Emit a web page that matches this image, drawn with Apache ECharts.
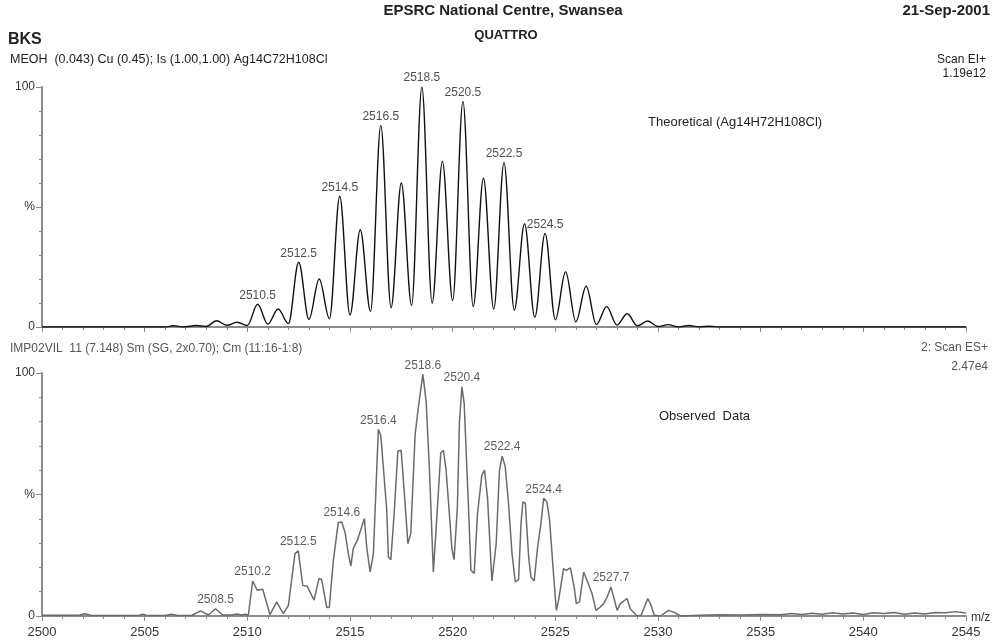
<!DOCTYPE html>
<html>
<head>
<meta charset="utf-8">
<script src="https://cdn.jsdelivr.net/npm/echarts@6/dist/echarts.min.js"></script>
<style>
  html, body { margin: 0; padding: 0; background: #fff; }
  #chart { width: 996px; height: 640px; }
</style>
</head>
<body>
<div id="chart"></div>
<script>
// theoretical isotope pattern (top), m/z and relative %
const topMz = [2500, 2505.5, 2506.0, 2506.4, 2506.9, 2507.5, 2508.0, 2508.5, 2509.0, 2509.5, 2510.0,
  2510.5, 2511.0, 2511.5, 2512.0, 2512.5, 2513.0, 2513.5, 2514.0, 2514.5, 2515.0,
  2515.5, 2516.0, 2516.5, 2517.0, 2517.5, 2518.0, 2518.5, 2519.0, 2519.5, 2520.0,
  2520.5, 2521.0, 2521.5, 2522.0, 2522.5, 2523.0, 2523.5, 2524.0, 2524.5, 2525.0,
  2525.5, 2526.0, 2526.5, 2527.0, 2527.5, 2528.0, 2528.5, 2529.0, 2529.5, 2530.0,
  2530.5, 2531.0, 2531.5, 2532.0, 2532.5, 2533.0, 2545]
const topPct = [0, 0, 0, 0.5, 0, 0.6, 0.2, 2.6, 0.7, 2.0, 0.6,
  9.5, 1.2, 7.5, 1.4, 27, 3.2, 20, 3.5, 54.5, 5,
  40.5, 6.5, 84, 8, 60, 9, 100, 10, 69, 11,
  94, 8.5, 62, 7.5, 68.5, 7, 43, 4, 39, 3,
  23, 2.2, 17, 1, 8.5, 0.8, 5.5, 0.5, 2.5, 0.2,
  1, 0, 0.6, 0.1, 0.3, 0, 0]

// observed data (bottom)
const bottomMz = [2500.0, 2501.0, 2501.8, 2502.1, 2502.4, 2503.2, 2504.0, 2504.7, 2504.9, 2505.1,
  2506.0, 2506.3, 2506.6, 2507.3, 2507.72, 2508.1, 2508.45, 2508.8, 2509.2, 2509.5,
  2509.7, 2509.9, 2510.05, 2510.26, 2510.48, 2510.75, 2511.10, 2511.43, 2511.75, 2512.0,
  2512.32, 2512.48, 2512.70, 2512.92, 2513.25, 2513.49, 2513.62, 2513.87, 2513.99, 2514.19,
  2514.43, 2514.60, 2514.76, 2514.92, 2515.04, 2515.16, 2515.36, 2515.70, 2515.82, 2515.98,
  2516.14, 2516.38, 2516.50, 2516.79, 2516.87, 2516.99, 2517.15, 2517.33, 2517.49, 2517.60,
  2517.82, 2517.96, 2518.17, 2518.33, 2518.55, 2518.71, 2518.87, 2519.06, 2519.23, 2519.42,
  2519.55, 2519.68, 2519.88, 2519.96, 2520.07, 2520.23, 2520.33, 2520.45, 2520.56, 2520.77,
  2520.89, 2521.05, 2521.21, 2521.42, 2521.55, 2521.70, 2521.91, 2522.12, 2522.28, 2522.41,
  2522.56, 2522.72, 2522.89, 2523.05, 2523.21, 2523.33, 2523.42, 2523.54, 2523.70, 2523.81,
  2523.97, 2524.13, 2524.30, 2524.43, 2524.59, 2524.72, 2524.91, 2525.05, 2525.16, 2525.40,
  2525.53, 2525.73, 2525.92, 2526.02, 2526.18, 2526.38, 2526.54, 2526.79, 2526.98, 2527.19,
  2527.35, 2527.52, 2527.71, 2527.84, 2528.01, 2528.17, 2528.49, 2528.65, 2528.98, 2529.18,
  2529.50, 2529.63, 2529.82, 2530.12, 2530.52, 2530.77, 2531.09, 2532.0, 2533.0, 2534.0,
  2535.0, 2536.0, 2536.5, 2537.0, 2537.5, 2538.0, 2538.5, 2539.0, 2539.5, 2540.0,
  2540.5, 2541.0, 2541.5, 2542.0, 2542.5, 2543.0, 2543.5, 2544.0, 2544.5, 2545.0]
const bottomPct = [0.3, 0.3, 0.3, 0.9, 0.2, 0.2, 0.2, 0.2, 0.7, 0.2,
  0.2, 0.7, 0.2, 0.3, 2.1, 0.4, 3.0, 0.4, 0.4, 0.8,
  0.4, 0.7, 0.4, 14.4, 10.6, 11.0, 0.6, 5.8, 1.0, 4.4,
  25.7, 26.8, 12.6, 12.2, 6.5, 15.4, 15.0, 3.5, 3.5, 22.9,
  38.5, 38.7, 34.3, 25.7, 20.5, 27.8, 31.2, 40.1, 27.8, 18.1,
  25.7, 76.8, 74.4, 43.5, 24.3, 23.2, 42.2, 67.8, 68.2, 55.9,
  29.8, 33.9, 74.4, 86.1, 99.5, 88.1, 60.0, 18.1, 40.8, 67.1,
  68.2, 60.0, 37.4, 27.8, 23.2, 44.9, 79.9, 94.3, 87.5, 44.9,
  18.8, 17.5, 42.2, 57.9, 60.0, 48.4, 14.4, 29.8, 60.0, 65.8,
  61.4, 46.3, 25.7, 14.0, 15.0, 38.1, 47.0, 46.3, 24.3, 16.1,
  14.4, 27.8, 38.1, 48.4, 47.0, 39.4, 17.5, 2.3, 6.5, 19.5,
  18.8, 19.8, 11.9, 5.1, 5.8, 18.1, 14.7, 9.2, 2.3, 3.7,
  5.1, 7.8, 11.9, 7.8, 2.3, 5.1, 7.2, 3.0, 0.0, 0.3,
  7.2, 5.1, 0.3, 0.0, 2.3, 1.6, 0.0, 0.3, 0.5, 0.4,
  0.6, 0.5, 1.0, 0.6, 1.1, 0.7, 1.3, 0.8, 1.2, 0.6,
  1.3, 1.0, 1.4, 0.7, 1.2, 0.8, 1.4, 1.3, 1.8, 1.2]

// peak annotations
const topPeakMz = [2510.5, 2512.5, 2514.5, 2516.5, 2518.5, 2520.5, 2522.5, 2524.5]
const topPeakPct = [9.5, 27, 54.5, 84, 100, 94, 68.5, 39]
const topPeakText = ['2510.5', '2512.5', '2514.5', '2516.5', '2518.5', '2520.5', '2522.5', '2524.5']
const bottomPeakMz = [2508.45, 2510.26, 2512.48, 2514.6, 2516.38, 2518.55, 2520.45, 2522.41, 2524.43, 2527.71]
const bottomPeakPct = [3.0, 14.4, 26.8, 38.7, 76.8, 99.5, 94.3, 65.8, 48.4, 11.9]
const bottomPeakText = ['2508.5', '2510.2', '2512.5', '2514.6', '2516.4', '2518.6', '2520.4', '2522.4', '2524.4', '2527.7']

const font = '"Liberation Sans", Arial, sans-serif'
const zip = (xs, ys, ts) => xs.map((x, i) => ts ? [x, ys[i], ts[i]] : [x, ys[i]])

function xAxisOpt (idx, showLabels) {
  return {
    gridIndex: idx,
    type: 'value',
    min: 2500,
    max: 2545,
    interval: 5,
    axisLine: { onZero: false, lineStyle: { color: '#8c8c8c', width: 2 } },
    axisTick: { length: 5, lineStyle: { color: '#8c8c8c' } },
    minorTick: { show: true, splitNumber: 5, length: 3, lineStyle: { color: '#8c8c8c' } },
    splitLine: { show: false },
    axisLabel: {
      show: showLabels, color: '#333', fontSize: 13, fontFamily: font, margin: 10,
      formatter: v => String(v)
    }
  }
}

function yAxisOpt (idx) {
  return {
    gridIndex: idx,
    type: 'value',
    min: 0,
    max: 100,
    interval: 50,
    axisLine: { show: true, lineStyle: { color: '#8c8c8c', width: 2 } },
    axisTick: { show: true, length: 6, lineStyle: { color: '#8c8c8c' } },
    minorTick: { show: true, splitNumber: 5, length: 3, lineStyle: { color: '#8c8c8c' } },
    splitLine: { show: false },
    axisLabel: {
      color: '#333', fontSize: 12, fontFamily: font, margin: 7,
      formatter: v => (v === 50 ? '%' : String(v))
    }
  }
}

function peakSeries (idx, data, color) {
  return {
    type: 'scatter',
    xAxisIndex: idx,
    yAxisIndex: idx,
    data: data,
    symbolSize: 0,
    silent: true,
    label: {
      show: true,
      position: 'top',
      distance: 3,
      color: color,
      fontSize: 12,
      fontFamily: font,
      formatter: p => p.data[2]
    }
  }
}

function txt (x, y, text, opts) {
  return {
    type: 'text',
    x: x,
    y: y,
    silent: true,
    style: Object.assign({
      text: text,
      fill: '#222',
      fontSize: 12,
      fontFamily: font,
      textAlign: 'left',
      textVerticalAlign: 'middle'
    }, opts || {})
  }
}

const chart = echarts.init(document.getElementById('chart'))
chart.setOption({
  backgroundColor: '#fff',
  animation: false,
  grid: [
    { left: 42, right: 30, top: 87, height: 240 },
    { left: 42, right: 30, top: 373, height: 243 }
  ],
  xAxis: [xAxisOpt(0, false), xAxisOpt(1, true)],
  yAxis: [yAxisOpt(0), yAxisOpt(1)],
  series: [
    {
      type: 'line',
      xAxisIndex: 0,
      yAxisIndex: 0,
      data: zip(topMz, topPct),
      smooth: 0.35,
      smoothMonotone: 'x',
      showSymbol: false,
      lineStyle: { color: '#111', width: 1.4 }
    },
    {
      type: 'line',
      xAxisIndex: 1,
      yAxisIndex: 1,
      data: zip(bottomMz, bottomPct),
      showSymbol: false,
      lineStyle: { color: '#6b6b6b', width: 1.5 }
    },
    peakSeries(0, zip(topPeakMz, topPeakPct, topPeakText), '#222'),
    peakSeries(1, zip(bottomPeakMz, bottomPeakPct, bottomPeakText), '#333')
  ],
  graphic: [
    txt(503, 11, 'EPSRC National Centre, Swansea', { fontSize: 15, fontWeight: 'bold', textAlign: 'center' }),
    txt(506, 35, 'QUATTRO', { fontSize: 13, fontWeight: 'bold', textAlign: 'center' }),
    txt(990, 11, '21-Sep-2001', { fontSize: 15, fontWeight: 'bold', textAlign: 'right' }),
    txt(8, 40, 'BKS', { fontSize: 16, fontWeight: 'bold' }),
    txt(10, 60, 'MEOH  (0.043) Cu (0.45); Is (1.00,1.00) Ag14C72H108Cl', { fontSize: 12.5 }),
    txt(986, 60, 'Scan EI+', { fontSize: 12, textAlign: 'right' }),
    txt(986, 74, '1.19e12', { fontSize: 12, textAlign: 'right' }),
    txt(648, 122, 'Theoretical (Ag14H72H108Cl)', { fontSize: 13 }),
    txt(10, 349, 'IMP02VIL  11 (7.148) Sm (SG, 2x0.70); Cm (11:16-1:8)', { fontSize: 12, fill: '#555' }),
    txt(988, 348, '2: Scan ES+', { fontSize: 12, fill: '#555', textAlign: 'right' }),
    txt(988, 367, '2.47e4', { fontSize: 12, fill: '#555', textAlign: 'right' }),
    txt(659, 416, 'Observed  Data', { fontSize: 13 }),
    txt(971, 618, 'm/z', { fontSize: 12, fill: '#333' })
  ]
})
</script>
</body>
</html>
